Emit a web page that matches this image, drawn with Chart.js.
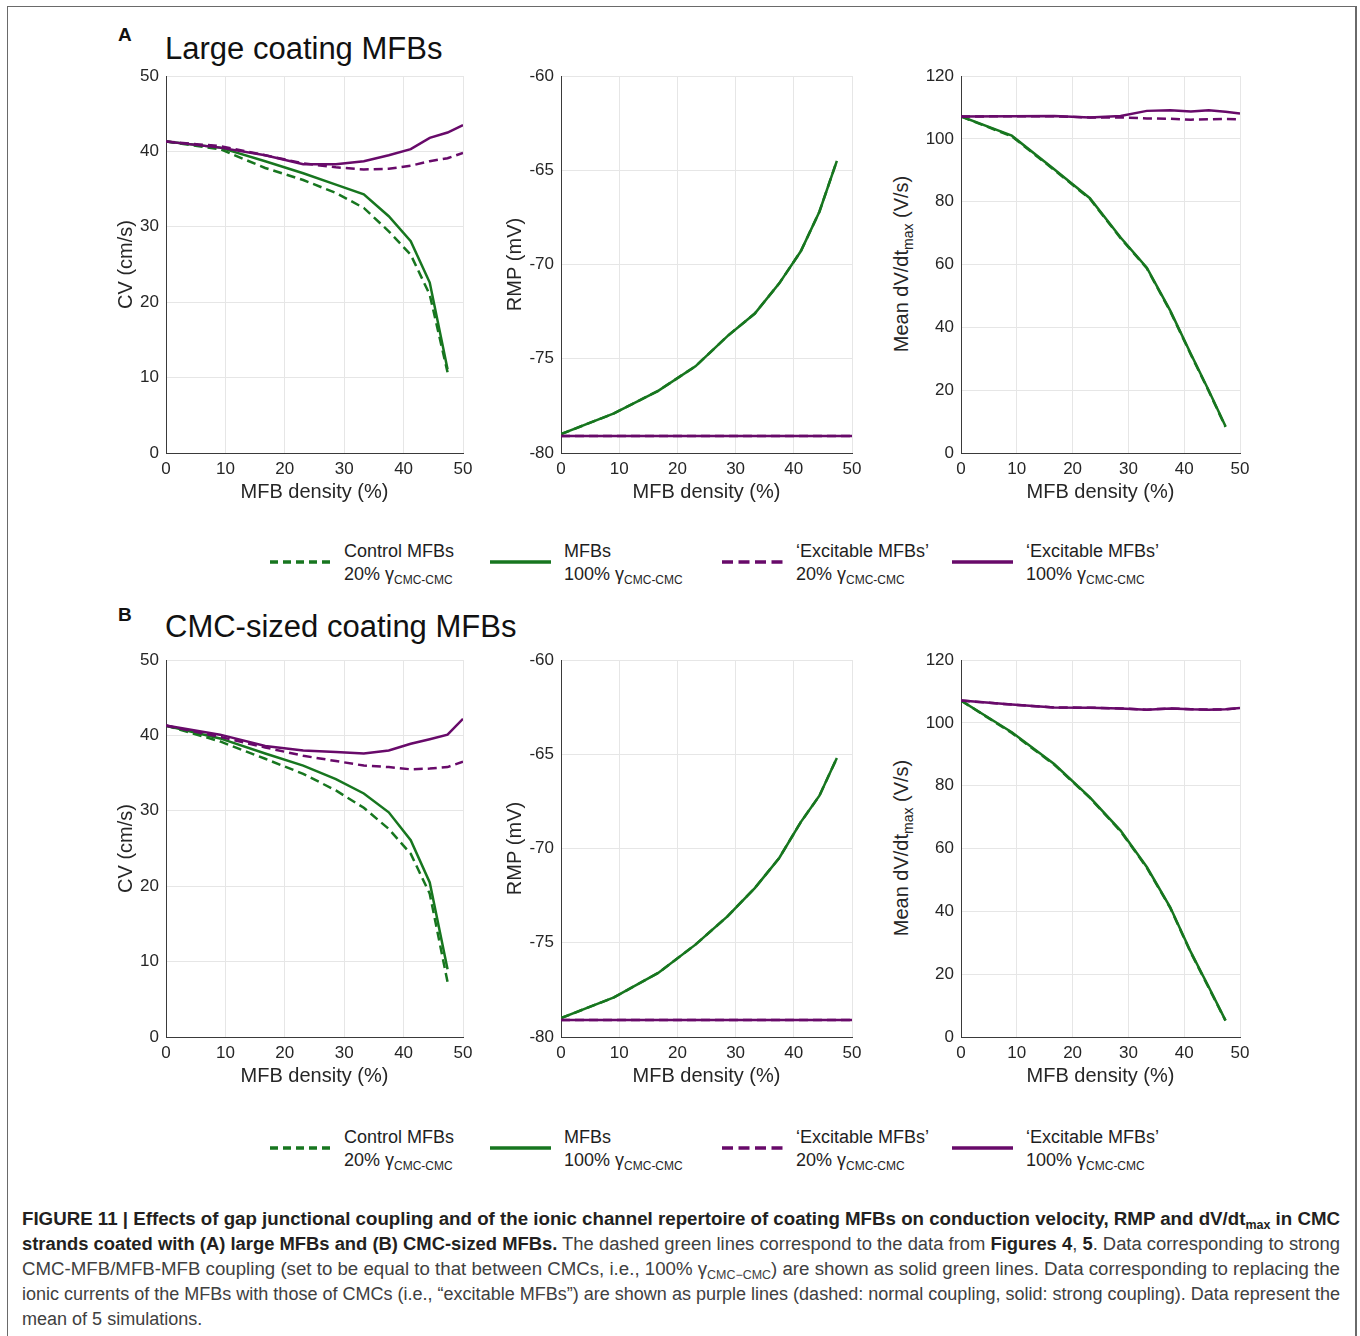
<!DOCTYPE html>
<html>
<head>
<meta charset="utf-8">
<script src="https://cdn.jsdelivr.net/npm/chart.js@4.4.1/dist/chart.umd.min.js"></script>
<style>
  html, body { margin: 0; padding: 0; background: #fff; }
  body { width: 1360px; height: 1336px; position: relative; overflow: hidden;
         font-family: 'Liberation Sans', Arial, Helvetica, sans-serif; color: #262626; }
  .abs { position: absolute; }
  .frame { left: 7px; top: 6px; width: 1347px; height: 1400px; border: 1px solid #6a6a6a; border-right-width: 2px; }
  .panel-letter { font-weight: bold; font-size: 19px; color: #111; }
  .panel-title { font-size: 31px; color: #111; white-space: nowrap; line-height: 31px; }
  .ytitle { font-size: 20px; white-space: nowrap; transform: translate(-50%, -50%) rotate(-90deg); }
  .ytitle sub { font-size: 14px; vertical-align: -5px; }
  .leg-text { font-size: 18px; white-space: nowrap; line-height: 23px; color: #1e1e1e; }
  .leg-text sub { font-size: 12px; vertical-align: -4px; }
  .cap { left: 22px; white-space: nowrap; font-size: 18px; line-height: 25px; color: #404040; transform-origin: 0 50%; }
  .cap b { color: #231f20; }
  .cap sub { font-size: 12px; vertical-align: -4px; }
</style>
</head>
<body>
<div class="abs frame"></div>

<div class="abs panel-letter" style="left:118px; top:24px;">A</div>
<div class="abs panel-title" style="left:165px; top:33px;">Large coating MFBs</div>
<div class="abs panel-letter" style="left:118px; top:604px;">B</div>
<div class="abs panel-title" style="left:165px; top:611px;">CMC-sized coating MFBs</div>

<div class="abs ytitle" style="left:903px; top:264px;">Mean dV/dt<sub>max</sub> (V/s)</div>
<div class="abs ytitle" style="left:903px; top:848px;">Mean dV/dt<sub>max</sub> (V/s)</div>

<div id="legends"></div>

<div class="abs cap" style="top:1207px;"><b>FIGURE 11 | Effects of gap junctional coupling and of the ionic channel repertoire of coating MFBs on conduction velocity, RMP and dV/dt<sub>max</sub> in CMC</b></div>
<div class="abs cap" style="top:1232px;"><b>strands coated with (A) large MFBs and (B) CMC-sized MFBs.</b> The dashed green lines correspond to the data from <b>Figures 4</b>, <b>5</b>. Data corresponding to strong</div>
<div class="abs cap" style="top:1257px;">CMC-MFB/MFB-MFB coupling (set to be equal to that between CMCs, i.e., 100% γ<sub>CMC−CMC</sub>) are shown as solid green lines. Data corresponding to replacing the</div>
<div class="abs cap" style="top:1282px;">ionic currents of the MFBs with those of CMCs (i.e., “excitable MFBs”) are shown as purple lines (dashed: normal coupling, solid: strong coupling). Data represent the</div>
<div class="abs cap" style="top:1307px;">mean of 5 simulations.</div>

<script>
// MFB density (%) at which the strands were simulated
const mfbDensity = [0, 9.1, 16.7, 23.1, 28.6, 33.3, 37.5, 41.2, 44.4, 47.4, 50];

// A - large coating MFBs
const cvA_ctrl20  = [41.3, 40.3, 37.8, 36.2, 34.5, 32.5, 29.4, 26.3, 21.0, 10.7];
const cvA_mfb100  = [41.3, 40.5, 38.7, 37.1, 35.6, 34.3, 31.4, 28.1, 22.6, 11.1];
const cvA_exc20   = [41.3, 40.7, 39.5, 38.4, 37.9, 37.6, 37.7, 38.1, 38.7, 39.1, 39.8];
const cvA_exc100  = [41.3, 40.5, 39.5, 38.3, 38.3, 38.7, 39.5, 40.3, 41.8, 42.5, 43.5];

const rmpA_ctrl20 = [-79.0, -77.9, -76.7, -75.4, -73.8, -72.6, -71.0, -69.3, -67.2, -64.5];
const rmpA_mfb100 = [-79.0, -77.9, -76.7, -75.4, -73.8, -72.6, -71.0, -69.3, -67.2, -64.5];
const rmpA_exc20  = [-79.1, -79.1, -79.1, -79.1, -79.1, -79.1, -79.1, -79.1, -79.1, -79.1, -79.1];
const rmpA_exc100 = [-79.1, -79.1, -79.1, -79.1, -79.1, -79.1, -79.1, -79.1, -79.1, -79.1, -79.1];

const dvA_ctrl20  = [107.1, 100.8, 90.1, 80.9, 68.4, 58.8, 45.1, 31.3, 19.7, 8.3];
const dvA_mfb100  = [107.1, 101.0, 90.3, 81.1, 68.6, 59.0, 45.3, 31.5, 19.9, 8.5];
const dvA_exc20   = [107.1, 107.2, 107.2, 106.8, 106.8, 106.5, 106.4, 106.1, 106.2, 106.3, 106.2];
const dvA_exc100  = [107.1, 107.2, 107.3, 106.8, 107.3, 108.9, 109.1, 108.7, 109.1, 108.6, 108.1];

// B - CMC-sized coating MFBs
const cvB_ctrl20  = [41.3, 39.2, 36.9, 34.9, 32.7, 30.4, 27.6, 24.3, 19.0, 7.3];
const cvB_mfb100  = [41.3, 39.6, 37.6, 36.0, 34.2, 32.3, 29.8, 26.1, 20.5, 9.0];
const cvB_exc20   = [41.3, 39.8, 38.4, 37.3, 36.6, 36.0, 35.8, 35.5, 35.6, 35.8, 36.5];
const cvB_exc100  = [41.3, 40.1, 38.6, 38.0, 37.8, 37.6, 38.0, 38.9, 39.5, 40.1, 42.2];

const rmpB_ctrl20 = [-79.0, -77.9, -76.6, -75.1, -73.6, -72.1, -70.5, -68.6, -67.2, -65.2];
const rmpB_mfb100 = [-79.0, -77.9, -76.6, -75.1, -73.6, -72.1, -70.5, -68.6, -67.2, -65.2];
const rmpB_exc20  = [-79.1, -79.1, -79.1, -79.1, -79.1, -79.1, -79.1, -79.1, -79.1, -79.1, -79.1];
const rmpB_exc100 = [-79.1, -79.1, -79.1, -79.1, -79.1, -79.1, -79.1, -79.1, -79.1, -79.1, -79.1];

const dvB_ctrl20  = [107.1, 96.8, 86.7, 76.1, 65.5, 53.9, 41.1, 26.8, 15.7, 5.2];
const dvB_mfb100  = [107.1, 97.0, 86.9, 76.3, 65.7, 54.1, 41.3, 27.0, 15.9, 5.3];
const dvB_exc20   = [107.1, 105.8, 104.9, 104.8, 104.6, 104.2, 104.6, 104.3, 104.2, 104.3, 104.7];
const dvB_exc100  = [107.1, 105.8, 104.9, 104.8, 104.6, 104.2, 104.6, 104.3, 104.2, 104.3, 104.7];

const GREEN = '#17761f';
const PURPLE = '#680a6a';
const TEXT = '#262626';
const FONT = "'Liberation Sans', Arial, Helvetica, sans-serif";

// plot area geometry (pixels on the page)
const cols = [
    { plotLeft: 166, plotRight: 463, canvasLeft: 104, titlePad: 10 },
    { plotLeft: 561, plotRight: 852, canvasLeft: 490, titlePad: 13 },
    { plotLeft: 961, plotRight: 1240, canvasLeft: 880, titlePad: 0 }
];
const rows = [
    { plotTop: 76, plotBottom: 453 },
    { plotTop: 660, plotBottom: 1037 }
];
const PAD_TOP = 18, PAD_RIGHT = 20, XAXIS_H = 57;

function series(ys) {
    return ys.map((y, i) => ({ x: mfbDensity[i], y: y }));
}

function line(ys, color, dashed) {
    return {
        data: series(ys),
        borderColor: color,
        borderWidth: 2.5,
        borderDash: dashed ? [9, 5] : [],
        borderCapStyle: 'butt',
        pointRadius: 0,
        tension: 0,
        fill: false
    };
}

function makePlot(row, col, yMin, yMax, yStep, yTitle, ctrl20, mfb100, exc20, exc100) {
    const c = cols[col], r = rows[row];
    const top = r.plotTop - PAD_TOP;
    const height = r.plotBottom + XAXIS_H - top;
    const width = c.plotRight + PAD_RIGHT - c.canvasLeft;

    const box = document.createElement('div');
    box.className = 'abs';
    box.style.left = c.canvasLeft + 'px';
    box.style.top = top + 'px';
    box.style.width = width + 'px';
    box.style.height = height + 'px';
    const canvas = document.createElement('canvas');
    box.appendChild(canvas);
    document.body.appendChild(box);

    const yAxisW = c.plotLeft - c.canvasLeft;

    return new Chart(canvas, {
        type: 'line',
        data: {
            // first dataset is drawn on top
            datasets: [
                line(exc100, PURPLE, false),
                line(exc20, PURPLE, true),
                line(mfb100, GREEN, false),
                line(ctrl20, GREEN, true)
            ]
        },
        options: {
            responsive: true,
            maintainAspectRatio: false,
            animation: false,
            devicePixelRatio: 1,
            layout: { padding: { top: PAD_TOP, right: PAD_RIGHT, left: 0, bottom: 0 } },
            plugins: { legend: { display: false }, tooltip: { enabled: false } },
            scales: {
                x: {
                    type: 'linear',
                    min: 0, max: 50,
                    ticks: { stepSize: 10, color: TEXT, padding: 6, font: { family: FONT, size: 17 } },
                    grid: { color: '#e6e6e6', drawTicks: false },
                    border: { color: '#3a3a3a', width: 1 },
                    title: {
                        display: true, text: 'MFB density (%)', color: TEXT,
                        font: { family: FONT, size: 20 }, padding: { top: 0, bottom: 6 }
                    },
                    afterFit: s => { s.height = XAXIS_H; }
                },
                y: {
                    type: 'linear',
                    min: yMin, max: yMax,
                    ticks: { stepSize: yStep, color: TEXT, padding: 7, font: { family: FONT, size: 17 } },
                    grid: { color: '#e6e6e6', drawTicks: false },
                    border: { color: '#3a3a3a', width: 1 },
                    title: {
                        display: !!yTitle, text: yTitle || '', color: TEXT,
                        font: { family: FONT, size: 20 }, padding: { top: c.titlePad, bottom: 0 }
                    },
                    afterFit: s => { s.width = yAxisW; }
                }
            }
        }
    });
}

makePlot(0, 0, 0, 50, 10, 'CV (cm/s)', cvA_ctrl20, cvA_mfb100, cvA_exc20, cvA_exc100);
makePlot(0, 1, -80, -60, 5, 'RMP (mV)', rmpA_ctrl20, rmpA_mfb100, rmpA_exc20, rmpA_exc100);
makePlot(0, 2, 0, 120, 20, null, dvA_ctrl20, dvA_mfb100, dvA_exc20, dvA_exc100);
makePlot(1, 0, 0, 50, 10, 'CV (cm/s)', cvB_ctrl20, cvB_mfb100, cvB_exc20, cvB_exc100);
makePlot(1, 1, -80, -60, 5, 'RMP (mV)', rmpB_ctrl20, rmpB_mfb100, rmpB_exc20, rmpB_exc100);
makePlot(1, 2, 0, 120, 20, null, dvB_ctrl20, dvB_mfb100, dvB_exc20, dvB_exc100);

// legends below each row
const legendNames = ['Control MFBs', 'MFBs', '‘Excitable MFBs’', '‘Excitable MFBs’'];
const legendCoupling = ['20%', '100%', '20%', '100%'];
const legendColors = [GREEN, GREEN, PURPLE, PURPLE];
const legendDash = ['8 5', '', '11 5.5', ''];

function buildLegend(top) {
    const holder = document.getElementById('legends');
    const xs = [270, 490, 722, 952];
    xs.forEach((x, i) => {
        const svg = document.createElementNS('http://www.w3.org/2000/svg', 'svg');
        svg.setAttribute('width', 62);
        svg.setAttribute('height', 8);
        svg.setAttribute('class', 'abs');
        svg.style.left = x + 'px';
        svg.style.top = (top + 7) + 'px';
        const ln = document.createElementNS('http://www.w3.org/2000/svg', 'line');
        ln.setAttribute('x1', 0); ln.setAttribute('x2', 61);
        ln.setAttribute('y1', 4); ln.setAttribute('y2', 4);
        ln.setAttribute('stroke', legendColors[i]);
        ln.setAttribute('stroke-width', 3.5);
        if (legendDash[i]) ln.setAttribute('stroke-dasharray', legendDash[i]);
        svg.appendChild(ln);
        holder.appendChild(svg);

        const t = document.createElement('div');
        t.className = 'abs leg-text';
        t.style.left = (x + 74) + 'px';
        t.style.top = (top - 11) + 'px';
        t.innerHTML = legendNames[i] + '<br>' + legendCoupling[i] + ' γ<sub>CMC-CMC</sub>';
        holder.appendChild(t);
    });
}
buildLegend(551);
buildLegend(1137);

// squeeze caption lines to the justified width of the original
const capLines = document.querySelectorAll('.cap');
let lastScale = 1;
capLines.forEach((el, i) => {
    const w = el.getBoundingClientRect().width;
    if (i < capLines.length - 1) lastScale = 1318 / w;
    el.style.transform = 'scaleX(' + lastScale + ')';
});
</script>
</body>
</html>
